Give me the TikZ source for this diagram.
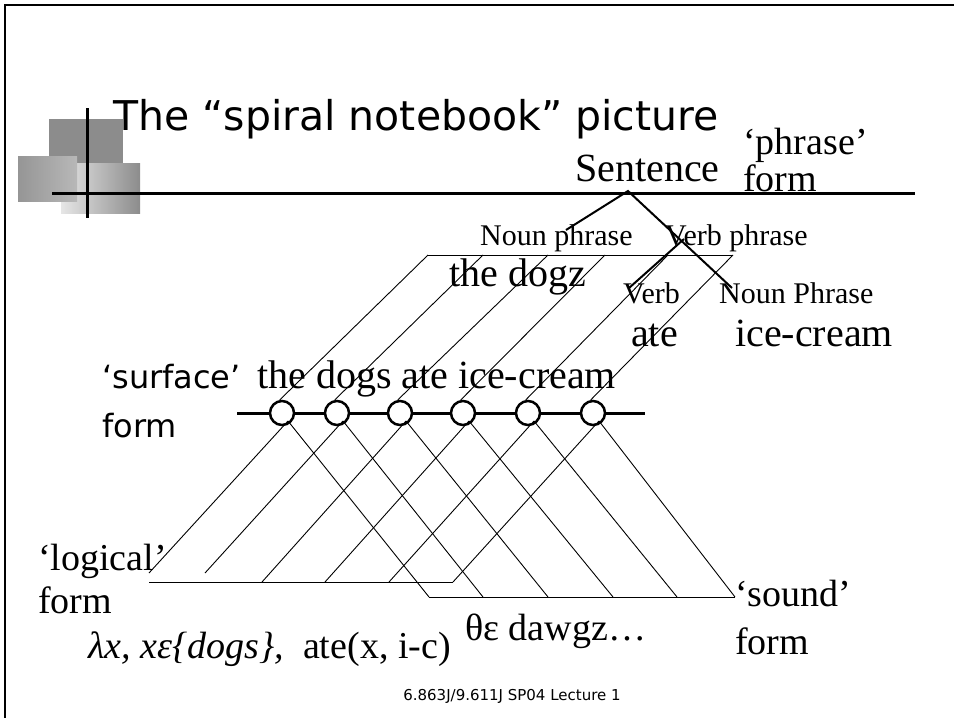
\documentclass[tikz,border=0pt]{standalone}
\usepackage{fontspec}
\setmainfont{Liberation Serif}
\newfontfamily\slidesans{DejaVu Sans}
\usepackage{tikz}
\usetikzlibrary{positioning,calc}
\definecolor{ink}     {HTML}{000000}
\definecolor{tiledark}{HTML}{8C8C8C}
\definecolor{tilemid} {HTML}{A6A6A6}
\definecolor{tilelite}{HTML}{E6E6E6}
\tikzset{
  % --- text
  big/.style     = {font=\fontsize{40}{44}\selectfont, inner sep=0pt, anchor=base west},
  small/.style   = {font=\fontsize{30}{33}\selectfont, inner sep=0pt, anchor=base west},
  lbl/.style     = {font=\fontsize{38}{42}\selectfont, inner sep=0pt, anchor=base west},
  sanslbl/.style = {font=\slidesans\fontsize{32}{36}\selectfont, inner sep=0pt, anchor=base west},
  % --- lines
  rule/.style    = {draw=ink, line width=3pt},
  branch/.style  = {draw=ink, line width=2pt},
  fold/.style    = {draw=ink, line width=0.9pt},
  joint/.style   = {circle, draw=ink, fill=white, line width=2.5pt, minimum size=24pt, inner sep=0pt},
}

\begin{document}
\begin{tikzpicture}[x=1pt,y=-1pt]
  \useasboundingbox (0,0) rectangle (954,718);
  \draw[ink, line width=2pt] (5,718) -- (5,5) -- (954,5);

  % slide decoration
  \fill[tiledark] (49,119) rectangle (123,163);
  \shade[left color=tilelite, middle color=tilelite!95!black, right color=tiledark] (61,163) rectangle (140,213);
  \shade[left color=tilemid!90!black, right color=tilemid!80] (18,156) rectangle (77,201);
  \draw[rule] (87,108) -- (87,218);
  \draw[rule] (52,193) -- (915,193);

  \node[anchor=base west, inner sep=0pt, font=\slidesans\fontsize{41}{44}\selectfont]
    (title) at (113,130) {The “spiral notebook” picture};

  % phrase form
  \node[lbl] (phrasetag)  at (743,154) {‘phrase’};
  \node[lbl] (phraseform) at (743,191) {form};
  \node[big] (sentence) at (575,181) {Sentence};
  \node[small] (np) at (480,245) {Noun phrase};
  \node[small] (vp) at (665,245) {Verb phrase};
  \node[big] (dogz) at (449,286) {the dogz};
  \node[small] (verb) at (623,303) {Verb};
  \node[small] (objnp) at (719,303) {Noun Phrase};
  \node[big] (ate) at (631,346) {ate};
  \node[big] (icecream) at (735,346) {ice-cream};
  \coordinate (apex)    at (628,191);
  \coordinate (npfoot)  at (566,230);
  \coordinate (vpknot)  at (684,239);
  \coordinate (vfoot)   at (629,288);
  \coordinate (objfoot) at (732,288);
  \draw[branch] (npfoot) -- (apex) -- (objfoot);
  \draw[branch] (vpknot) -- (vfoot);

  % surface form
  \node[sanslbl] (surftag)  at (102,388) {‘surface’};
  \node[sanslbl] (surfform) at (102,437) {form};
  \node[big] (surfwords) at (257,388) {the dogs ate ice-cream};
  \draw[rule] (237,413) -- (645,413);

  \foreach \i/\cx/\tx/\lx/\ly/\sx in {1/282/428/149/573/429, 2/337/483/205/573/483,
      3/400/548/262/582/548, 4/463/605/325/582/613, 5/528/668/389/582/677, 6/593/733/453/582/735} {
    \node[joint] (c\i) at (\cx,413) {};
    \coordinate (t\i) at (\tx,255);
    \coordinate (k\i) at ({\cx+6},421);
    \coordinate (l\i) at (\lx,\ly);
    \coordinate (s\i) at (\sx,597);
    \draw[fold] (c\i.100) -- (t\i);
    \draw[fold] (k\i) -- (l\i);
    \draw[fold] (k\i) -- (s\i);
  }
  \draw[fold] (t1) -- (t6);
  \draw[fold] (l1 |- l6) -- (l6);
  \draw[fold] (s1) -- (s6);

  % logical and sound forms
  \node[lbl] (logtag)  at (38,570) {‘logical’};
  \node[lbl] (logform) at (38,613) {form};
  \node[lbl] (lambda)  at (88,658) {\itshape λx, xε\{dogs\},\upshape\ \ ate(x, i-c)};
  \node[lbl] (theta)   at (465,640) {θε dawgz…};
  \node[lbl] (soundtag)  at (735,606) {‘sound’};
  \node[lbl] (soundform) at (735,654) {form};

  \node[anchor=base, inner sep=0pt, font=\slidesans\fontsize{15}{18}\selectfont]
    (footer) at (512,700) {6.863J/9.611J SP04 Lecture 1};
\end{tikzpicture}
\end{document}
